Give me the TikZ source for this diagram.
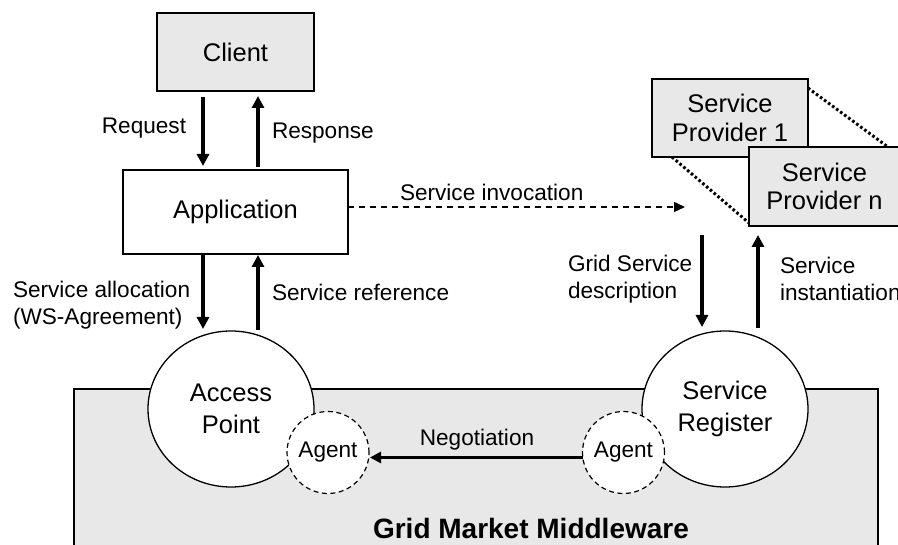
\documentclass[tikz,border=0pt]{standalone}
\usepackage{fontspec}
\setmainfont{Liberation Sans}
\usetikzlibrary{arrows.meta,shapes.geometric}
\definecolor{boxgray}{RGB}{232,232,232}
\begin{document}
\begin{tikzpicture}[x=1pt,y=-1pt,
  every node/.style={inner sep=0pt, outer sep=0pt},
  nodetext/.style={font=\fontsize{25.5}{28.5}\selectfont, align=center},
  labeltext/.style={font=\fontsize{22.6}{26.5}\selectfont, align=left},
  graybox/.style={draw, line width=1.2pt, fill=boxgray, nodetext},
  whitebox/.style={draw, line width=1.2pt, fill=white, nodetext},
  bigellipse/.style={draw, ellipse, line width=1.3pt, fill=white, minimum width=166pt, minimum height=156pt, font=\fontsize{25.5}{32}\selectfont, align=center},
  agentcircle/.style={draw, circle, dashed, dash pattern=on 5pt off 3.5pt, line width=1.2pt, fill=white, minimum size=82pt, font=\fontsize{22.6}{26}\selectfont},
  bigarrow/.style={line width=4pt, -{Triangle[length=12pt,width=12pt]}},
  negarrow/.style={line width=3pt, -{Triangle[length=11pt,width=11pt]}},
  dasharrow/.style={line width=1.4pt, dash pattern=on 6pt off 5pt, -{Triangle[length=11pt,width=10pt]}},
  dotline/.style={line width=3pt, dash pattern=on 2.6pt off 2.4pt}
]
\useasboundingbox (0,0) rectangle (898,545);
\clip (0,0) rectangle (898,545);

% middleware background
\node[draw, line width=1.2pt, fill=boxgray, anchor=north west, minimum width=804pt, minimum height=180pt] (mw) at (74,389) {};

% client / application
\node[graybox, minimum width=157pt, minimum height=78pt] (client) at (235.5,52) {Client};
\node[whitebox, minimum width=225pt, minimum height=84pt] (app) at (235.5,212) {Application};

% service providers
\node[graybox, minimum width=156pt, minimum height=78pt] (sp1) at (730,118) {Service\\Provider 1};
\node[graybox, minimum width=151pt, minimum height=79pt] (spn) at (824.5,186.5) {Service\\Provider n};
\draw[dotline] ([yshift=-9]sp1.north east) -- ([xshift=-12]spn.north east);
\draw[dotline] ([xshift=20]sp1.south west) -- ([yshift=3]spn.south west);
\coordinate (spbase) at (730,235);
\coordinate (invend) at (685,207);

% circles
\node[bigellipse] (ap) at (231,409) {Access\\Point};
\node[bigellipse] (sr) at (725,409) {Service\\Register};
\node[agentcircle] (ag1) at (328,452.5) {Agent};
\node[agentcircle] (ag2) at (623.5,452.5) {Agent};

% arrows
\draw[bigarrow, shorten >=4pt] ([xshift=-32.5,yshift=-6]client.south) -- ([xshift=-32.5]app.north);
\draw[bigarrow, shorten >=5pt] ([xshift=22.5,yshift=3]app.north) -- ([xshift=22.5]client.south);
\draw[bigarrow, shorten >=2pt] ([xshift=-32.5]app.south) -- ([xshift=-28]ap.north);
\draw[bigarrow, shorten >=1pt] ([xshift=27,yshift=1]ap.north) -- ([xshift=22.5]app.south);
\draw[bigarrow, shorten >=4pt] ([xshift=-28]spbase) -- ([xshift=-23]sr.north);
\draw[bigarrow] ([xshift=33,yshift=3]sr.north) -- ([xshift=28]spbase);
\draw[dasharrow] ([yshift=5]app.east) -- (invend);
\draw[negarrow, shorten >=1pt] ([yshift=-5]ag2.west) -- ([yshift=-5]ag1.east);

% labels
\node[labeltext] (lreq) at (144,128) {Request};
\node[labeltext, anchor=west] (lresp) at (272,133) {Response};
\node[labeltext, anchor=west] (lalloc) at (13,305) {Service allocation\\(WS-Agreement)};
\node[labeltext, anchor=west] (lref) at (272,292) {Service reference};
\node[labeltext, anchor=west] (linv) at (400,192) {Service invocation};
\node[labeltext, anchor=west] (ldesc) at (568,279) {Grid Service\\description};
\node[labeltext, anchor=west] (linst) at (780,279) {Service\\instantiation};
\node[labeltext] (lneg) at (477,440) {Negotiation};
\node[font=\fontsize{28}{31}\selectfont\bfseries] (lmw) at (531,528) {Grid Market Middleware};
\end{tikzpicture}
\end{document}
